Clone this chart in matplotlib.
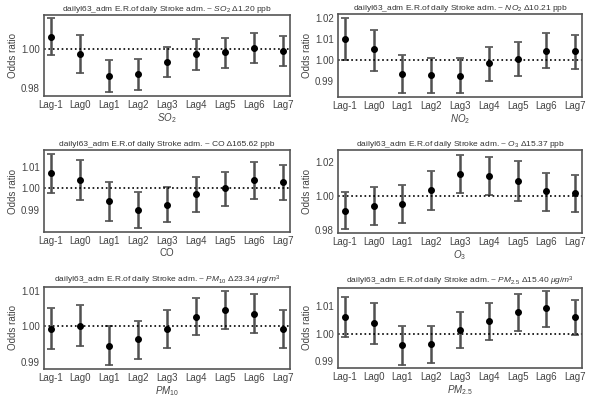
import numpy as np
import matplotlib
matplotlib.use('Agg')
import matplotlib.pyplot as plt

plt.rcParams['font.family'] = ['Liberation Sans', 'DejaVu Sans']
plt.rcParams['mathtext.fontset'] = 'custom'
plt.rcParams['mathtext.rm'] = 'Liberation Sans'
plt.rcParams['mathtext.it'] = 'Liberation Sans:italic'

lags = ['Lag-1', 'Lag0', 'Lag1', 'Lag2', 'Lag3', 'Lag4', 'Lag5', 'Lag6', 'Lag7']

# odds ratio, lower CI, upper CI per pollutant
so2_or = [1.0063, 0.9974, 0.9863, 0.9872, 0.9933, 0.9974, 0.9985, 1.0007, 0.9990]
so2_lo = [0.9968, 0.9877, 0.9781, 0.9790, 0.9856, 0.9892, 0.9903, 0.9930, 0.9913]
so2_hi = [1.0157, 1.0073, 0.9945, 0.9950, 1.0012, 1.0053, 1.0058, 1.0084, 1.0068]

no2_or = [1.0100, 1.0049, 0.9935, 0.9927, 0.9925, 0.9983, 1.0006, 1.0043, 1.0040]
no2_lo = [1.0000, 0.9949, 0.9844, 0.9844, 0.9844, 0.9902, 0.9922, 0.9959, 0.9956]
no2_hi = [1.0197, 1.0143, 1.0024, 1.0010, 1.0008, 1.0063, 1.0084, 1.0125, 1.0117]

co_or = [1.0069, 1.0040, 0.9942, 0.9902, 0.9925, 0.9974, 1.0000, 1.0037, 1.0028]
co_lo = [0.9980, 0.9946, 0.9851, 0.9818, 0.9845, 0.9891, 0.9918, 0.9954, 0.9946]
co_hi = [1.0158, 1.0129, 1.0028, 0.9983, 1.0009, 1.0052, 1.0078, 1.0120, 1.0106]

o3_or = [0.9909, 0.9941, 0.9954, 1.0034, 1.0127, 1.0119, 1.0087, 1.0028, 1.0014]
o3_lo = [0.9806, 0.9826, 0.9842, 0.9919, 1.0016, 1.0006, 0.9972, 0.9913, 0.9903]
o3_hi = [1.0020, 1.0050, 1.0063, 1.0145, 1.0240, 1.0230, 1.0204, 1.0137, 1.0123]

pm10_or = [0.9993, 1.0001, 0.9945, 0.9963, 0.9992, 1.0027, 1.0046, 1.0035, 0.9992]
pm10_lo = [0.9937, 0.9944, 0.9890, 0.9909, 0.9939, 0.9975, 0.9992, 0.9980, 0.9939]
pm10_hi = [1.0051, 1.0059, 1.0000, 1.0016, 1.0046, 1.0079, 1.0098, 1.0089, 1.0046]

pm25_or = [1.0063, 1.0039, 0.9960, 0.9962, 1.0013, 1.0046, 1.0080, 1.0093, 1.0062]
pm25_lo = [0.9987, 0.9965, 0.9888, 0.9893, 0.9947, 0.9979, 1.0012, 1.0025, 0.9996]
pm25_hi = [1.0134, 1.0113, 1.0030, 1.0030, 1.0078, 1.0112, 1.0145, 1.0157, 1.0125]

names = ['$SO_2$', '$NO_2$', 'CO', '$O_3$', '$PM_{10}$', '$PM_{2.5}$']
deltas = ['Δ1.20 ppb', 'Δ10.21 ppb', 'Δ165.62 ppb', 'Δ15.37 ppb',
          'Δ23.34 $\\mu g/m^3$', 'Δ15.40 $\\mu g/m^3$']
series = [(so2_or, so2_lo, so2_hi), (no2_or, no2_lo, no2_hi), (co_or, co_lo, co_hi),
          (o3_or, o3_lo, o3_hi), (pm10_or, pm10_lo, pm10_hi), (pm25_or, pm25_lo, pm25_hi)]
yticks = [[0.98, 1.00], [0.99, 1.00, 1.01, 1.02], [0.99, 1.00, 1.01],
          [0.98, 1.00, 1.02], [0.99, 1.00, 1.01], [0.99, 1.00, 1.01]]
ylims = [(0.9759, 1.0174), (0.9824, 1.0217), (0.980, 1.0177),
         (0.978, 1.0271), (0.988, 1.011), (0.9876, 1.0167)]

W, H = 595, 401
fig = plt.figure(figsize=(W / 100, H / 100), dpi=100)

# axes boxes in pixels: left, top, right, bottom
boxes = [(44, 15, 290, 96), (338, 14, 582, 97),
         (44, 150, 290, 232), (338, 150, 582, 233),
         (44, 287, 290, 369), (338, 288, 582, 368)]

x = np.arange(len(lags))
for i, (l, t, r, b) in enumerate(boxes):
    ax = fig.add_axes([l / W, 1 - b / H, (r - l) / W, (b - t) / H])
    orr, lo, hi = [np.array(v) for v in series[i]]
    ax.errorbar(x, orr, yerr=[orr - lo, hi - orr], fmt='o', color='black',
                ecolor='#505050', elinewidth=1.8, capsize=3, capthick=1.2,
                markersize=4)
    ax.axhline(1.0, color='black', linestyle=':', linewidth=1.2)
    ax.set_xlim(-0.24, 8.24)
    ax.set_ylim(*ylims[i])
    ax.set_yticks(yticks[i])
    ax.set_yticklabels(['%.2f' % v for v in yticks[i]])
    ax.set_xticks(x)
    ax.set_xticklabels(lags)
    ax.tick_params(length=0, labelsize=7, colors='#444444', pad=3)
    ax.set_xlabel(names[i], fontsize=7, color='#444444', labelpad=1)
    ax.set_ylabel('Odds ratio', fontsize=7, color='#444444', labelpad=2)
    ax.set_title('dailyI63_adm E.R.of daily Stroke adm. ~ ' + names[i] + ' ' + deltas[i],
                 fontsize=6, color='#333333', pad=3)
    for s in ax.spines.values():
        s.set_color('#555555')
        s.set_linewidth(1.2)

fig.savefig('out.png', dpi=100)
